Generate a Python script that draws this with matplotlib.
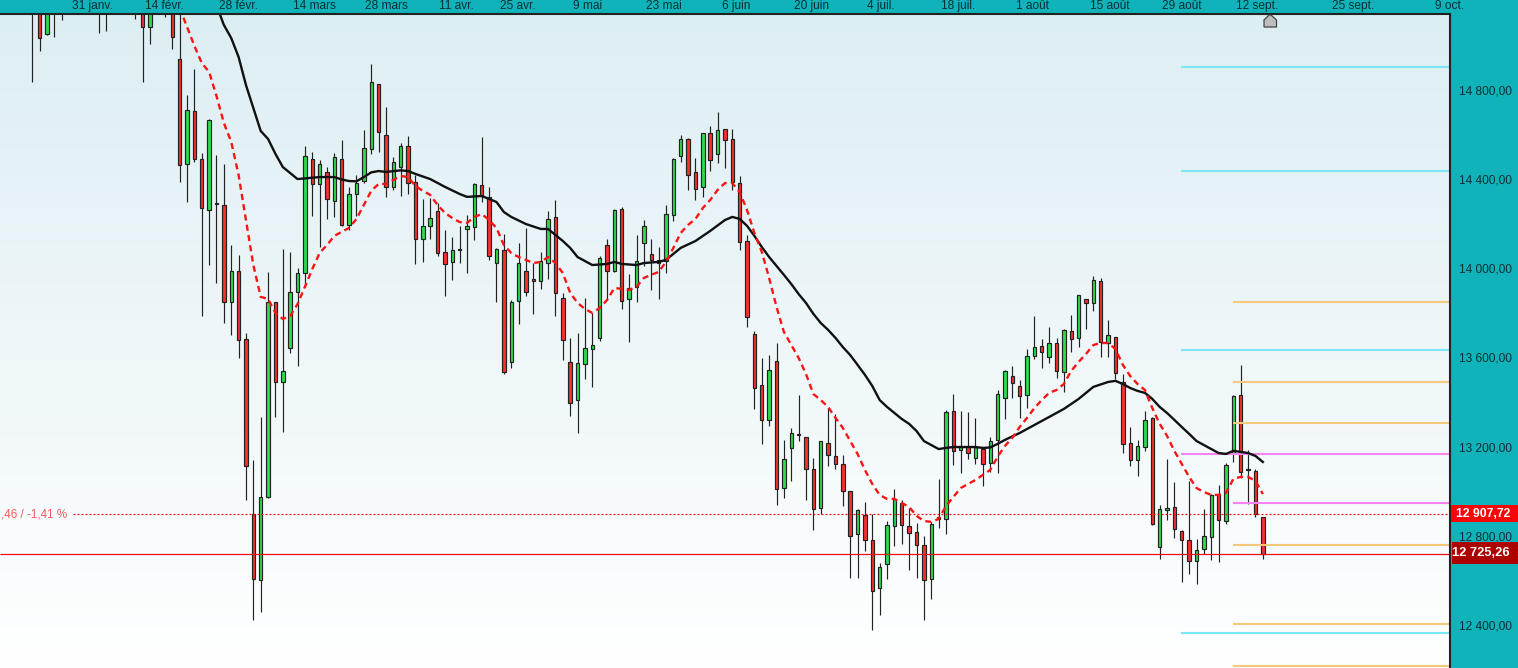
"""Daily candlestick chart with two moving averages and pivot levels."""
import matplotlib

matplotlib.use("Agg")
import matplotlib.patches as mpatches  # noqa: E402
import matplotlib.pyplot as plt  # noqa: E402
import matplotlib.transforms as mtrans  # noqa: E402
import numpy as np  # noqa: E402

plt.rcParams["font.family"] = ["Liberation Sans", "DejaVu Sans"]

opens = [15300, 15300, 15060, 15290, 15250, 15320, 15380, 15300, 15350, 15280,
         15200, 15300, 15250, 15330, 15260, 15200, 15091, 15200, 15280, 15190,
         14950, 14476, 14714, 14499, 14270, 14302, 14292, 13857, 13996, 13691,
         12907, 12609, 12982, 13857, 13498, 13650, 13905, 13987, 14499, 14387,
         14441, 14310, 14499, 14203, 14342, 14400, 14544, 14836, 14607, 14376,
         14463, 14557, 14396, 14140, 14198, 14265, 14081, 14036, 14095, 14185,
         14194, 14382, 14328, 14032, 14090, 13588, 13861, 13996, 13960, 13951,
         14032, 14238, 13875, 13588, 13417, 13579, 13646, 13695, 14113, 13999,
         14274, 13870, 13924, 14122, 14072, 14045, 14041, 14247, 14512, 14589,
         14441, 14373, 14616, 14521, 14634, 14589, 14391, 14131, 13713, 13484,
         13327, 13592, 13022, 13202, 13265, 13251, 13107, 12932, 13224, 13166,
         13130, 13008, 12815, 12901, 12789, 12573, 12681, 12851, 12955, 12851,
         12824, 12766, 12614, 12883, 12883, 13368, 13193, 13206, 13157, 13197,
         13134, 13238, 13426, 13525, 13480, 13439, 13615, 13659, 13610, 13673,
         13543, 13727, 13695, 13870, 13852, 13951, 13673, 13700, 13498, 13224,
         13148, 13206, 13336, 12757, 12923, 12937, 12829, 12789, 12694, 12748,
         12802, 12995, 12874, 13179, 13439, 13107, 13098, 12892]
highs = [15400, 15350, 15320, 15330, 15400, 15420, 15450, 15400, 15430, 15380,
         15340, 15400, 15370, 15420, 15360, 15300, 15280, 15330, 15350, 15300,
         15250, 14787, 14903, 14526, 14678, 14518, 14478, 14113, 14068, 13718,
         13148, 13341, 13993, 13860, 14096, 14083, 14010, 14559, 14530, 14496,
         14463, 14526, 14584, 14373, 14427, 14629, 14927, 14837, 14734, 14509,
         14571, 14603, 14428, 14321, 14325, 14301, 14181, 14151, 14200, 14249,
         14391, 14599, 14375, 14102, 14164, 13867, 14123, 14190, 14032, 14083,
         14267, 14316, 13897, 13695, 13718, 13876, 13809, 14063, 14141, 14276,
         14285, 13983, 14159, 14226, 14140, 14104, 14294, 14503, 14608, 14595,
         14505, 14618, 14648, 14711, 14636, 14635, 14423, 14159, 13727, 13606,
         13620, 13673, 13239, 13291, 13439, 13252, 13157, 13234, 13381, 13357,
         13170, 13010, 12928, 12959, 12905, 12685, 12874, 13019, 12968, 12932,
         12865, 12808, 12871, 13062, 13372, 13445, 13368, 13363, 13336, 13206,
         13254, 13462, 13553, 13571, 13508, 13646, 13794, 13691, 13745, 13695,
         13736, 13799, 13890, 13872, 13975, 13965, 13776, 13701, 13534, 13296,
         13239, 13369, 13343, 12946, 13152, 13049, 12835, 13053, 12793, 12928,
         12996, 13035, 13134, 13439, 13575, 13193, 13107, 12892]
lows = [14847, 14986, 15055, 15049, 15124, 15200, 15260, 15220, 15240, 15067,
        15075, 15210, 15190, 15230, 15129, 14847, 15018, 15170, 15139, 14995,
        14398, 14309, 14488, 13797, 14024, 13944, 13765, 13710, 13608, 12971,
        12432, 12468, 12977, 13343, 13276, 13628, 13572, 13926, 14246, 14107,
        14232, 14238, 14200, 14181, 14244, 14392, 14524, 14533, 14331, 14361,
        14335, 14343, 14030, 14039, 14141, 14066, 13887, 13958, 14035, 13990,
        14138, 14309, 14048, 13860, 13536, 13563, 13761, 13887, 13806, 13918,
        13963, 13797, 13597, 13348, 13272, 13511, 13478, 13685, 13867, 13993,
        13828, 13680, 13857, 14021, 13912, 13873, 13987, 14223, 14488, 14362,
        14317, 14331, 14448, 14481, 14461, 14362, 14093, 13747, 13379, 13222,
        13303, 12948, 12980, 13056, 13236, 12971, 12836, 12905, 13123, 13109,
        12944, 12621, 12621, 12742, 12387, 12455, 12616, 12764, 12773, 12657,
        12621, 12432, 12526, 12842, 12818, 13127, 13092, 13155, 13130, 13034,
        13097, 13092, 13334, 13426, 13339, 13384, 13601, 13563, 13583, 13518,
        13453, 13635, 13658, 13738, 13819, 13613, 13613, 13511, 13179, 13122,
        13077, 13190, 12857, 12706, 12880, 12800, 12603, 12639, 12594, 12727,
        12700, 12690, 12860, 13140, 13067, 12953, 12894, 12706]
closes = [15200, 15042, 15280, 15200, 15350, 15380, 15300, 15350, 15280, 15200,
          15300, 15250, 15330, 15260, 15200, 15091, 15200, 15280, 15190, 15047,
          14472, 14719, 14499, 14279, 14674, 14298, 13860, 13996, 13686, 13121,
          12614, 12982, 13857, 13498, 13547, 13902, 13987, 14512, 14387, 14476,
          14319, 14508, 14203, 14342, 14391, 14548, 14845, 14620, 14376, 14485,
          14557, 14394, 14140, 14198, 14234, 14077, 14028, 14090, 14091, 14198,
          14387, 14333, 14063, 14095, 13545, 13857, 14032, 13902, 13951, 14041,
          14230, 13897, 13686, 13404, 13583, 13650, 13664, 14054, 13996, 14270,
          13861, 13920, 14041, 14198, 14045, 14032, 14252, 14499, 14589, 14427,
          14364, 14616, 14494, 14629, 14584, 14396, 14126, 13790, 13471, 13327,
          13552, 13017, 13152, 13269, 13261, 13107, 12928, 13233, 13170, 13130,
          13008, 12807, 12923, 12789, 12560, 12667, 12856, 12973, 12856, 12820,
          12766, 12609, 12860, 12892, 13363, 13188, 13213, 13179, 13206, 13130,
          13233, 13444, 13547, 13493, 13435, 13615, 13655, 13632, 13673, 13547,
          13731, 13691, 13888, 13852, 13956, 13677, 13709, 13538, 13220, 13148,
          13210, 13327, 12860, 12928, 12932, 12838, 12789, 12694, 12744, 12807,
          12991, 12878, 13125, 13435, 13094, 13103, 12907.72, 12725.26]

slow_ma_days = [25, 26, 27, 28, 29, 30, 31, 32, 33, 34, 35, 36, 37, 39, 41, 42, 43, 44,
                45, 46, 47, 48, 50, 51, 52, 54, 56, 58, 59, 61, 63, 64, 65, 67, 69, 70,
                71, 72, 73, 74, 75, 76, 78, 79, 80, 82, 83, 85, 86, 87, 88, 90, 92, 94,
                95, 96, 97, 98, 99, 100, 101, 102, 103, 104, 105, 106, 107, 108, 109,
                110, 111, 112, 113, 114, 115, 116, 117, 118, 119, 120, 121, 122, 123,
                124, 125, 128, 129, 130, 131, 132, 134, 136, 138, 140, 142, 144, 146,
                147, 148, 149, 150, 151, 152, 153, 154, 156, 157, 158, 159, 160, 161,
                162, 163, 164, 165, 166, 167]
slow_ma = [15190, 15102, 15043, 14958, 14832, 14729, 14626, 14590, 14523, 14464, 14437,
           14410, 14413, 14419, 14419, 14408, 14401, 14400, 14419, 14440, 14446, 14442,
           14449, 14446, 14433, 14410, 14375, 14343, 14330, 14334, 14307, 14262, 14240,
           14208, 14186, 14186, 14159, 14132, 14101, 14060, 14042, 14024, 14029, 14038,
           14029, 14024, 14033, 14038, 14047, 14074, 14101, 14132, 14177, 14226, 14240,
           14231, 14200, 14155, 14105, 14060, 14020, 13980, 13939, 13894, 13854, 13805,
           13764, 13733, 13697, 13656, 13620, 13576, 13531, 13481, 13418, 13387, 13360,
           13333, 13311, 13279, 13234, 13216, 13198, 13203, 13207, 13207, 13203, 13205,
           13221, 13239, 13270, 13306, 13342, 13378, 13423, 13477, 13499, 13504, 13490,
           13472, 13459, 13450, 13423, 13387, 13360, 13297, 13266, 13234, 13216, 13198,
           13180, 13176, 13190, 13185, 13180, 13167, 13140]

fast_ma_first_day = 19
fast_ma = [15236, 15178, 15093, 15008, 14931, 14891, 14783, 14662, 14577, 14428, 14226,
           14024, 13881, 13872, 13809, 13782, 13795, 13849, 13926, 14006, 14078, 14114,
           14155, 14173, 14191, 14231, 14294, 14357, 14388, 14388, 14406, 14424, 14419,
           14379, 14357, 14339, 14294, 14258, 14235, 14217, 14213, 14240, 14253, 14226,
           14190, 14114, 14078, 14060, 14047, 14033, 14038, 14060, 14033, 13988, 13899,
           13854, 13827, 13809, 13831, 13867, 13921, 13917, 13912, 13926, 13966, 13980,
           13993, 14038, 14101, 14168, 14204, 14231, 14280, 14316, 14361, 14392, 14392,
           14352, 14271, 14168, 14083, 13966, 13836, 13724, 13665, 13607, 13535, 13445,
           13418, 13387, 13338, 13293, 13234, 13176, 13104, 13041, 12992, 12974, 12974,
           12956, 12938, 12898, 12875, 12871, 12884, 12942, 12983, 13023, 13041, 13059,
           13082, 13104, 13163, 13212, 13248, 13297, 13338, 13382, 13418, 13450, 13463,
           13490, 13549, 13589, 13625, 13665, 13674, 13674, 13647, 13576, 13526, 13490,
           13463, 13382, 13311, 13257, 13189, 13131, 13073, 13023, 13005, 12992, 12992,
           13001, 13064, 13073, 13073, 13055, 12996]

cyan_levels = [14915, 14446, 13643, 12372]
magenta_levels = [13176, 12956]
magenta_starts = [155.9, 162.9]
orange_levels = [13858, 13499, 13315, 12768, 12413, 12224]
last_close = 12725.26
prev_close = 12907.72

date_labels = ["31 janv.", "14 févr.", "28 févr.", "14 mars", "28 mars", "11 avr.",
               "25 avr.", "9 mai", "23 mai", "6 juin", "20 juin", "4 juil.", "18 juil.",
               "1 août", "15 août", "29 août", "12 sept.", "25 sept.", "9 oct."]
date_days = [8.1, 18.0, 28.0, 38.3, 48.0, 57.6, 65.9, 75.3, 85.7, 95.5, 105.7, 115.1,
             125.7, 135.7, 146.2, 156.0, 166.2, 179.3, 192.3]
price_ticks = [14800, 14400, 14000, 13600, 13200, 12800, 12400]

W, H = 1518, 668
TEAL = "#0FB3B9"
DARK = "#222222"
GREEN = "#2BDD4B"
RED = "#F8302E"
TICK_TEXT = "#082F33"


def fr_price(value):
    """French formatting: 14 800,00"""
    return f"{value:,.2f}".replace(",", " ").replace(".", ",")


fig = plt.figure(figsize=(W / 100, H / 100), dpi=100, facecolor=TEAL)
ax = fig.add_axes([0, 0, 1450 / W, (H - 14) / H])
ax.set_xlim(-4.38, 192.4)
ax.set_ylim(12215, 15151)

# background gradient, pale blue at the top down to white
top_col = np.array([221, 238, 243]) / 255
grad = np.linspace(0, 1, 256)[:, None, None]
img = top_col + (1 - top_col) * grad
ax.imshow(img, extent=(-4.38, 192.4, 12215, 15151), origin="upper",
          aspect="auto", zorder=0, interpolation="bilinear")

days = np.arange(len(closes))
o = np.array(opens)
c = np.array(closes)
body_low = np.minimum(o, c)
body_h = np.maximum(np.abs(c - o), 1)
colors = [GREEN if cl > op else RED for op, cl in zip(opens, closes)]

ax.vlines(days, lows, highs, color=DARK, lw=0.85, zorder=2)
ax.bar(days, body_h, bottom=body_low, width=0.46, color=colors,
       edgecolor=DARK, linewidth=0.85, zorder=3)

# pivot levels
for lv in cyan_levels:
    ax.hlines(lv, 155.9, 192.4, color="#7BE6F5", lw=1.5, zorder=4)
for lv, start in zip(magenta_levels, magenta_starts):
    ax.hlines(lv, start, 192.4, color="#F683F3", lw=1.5, zorder=4)
for lv in orange_levels:
    ax.hlines(lv, 162.9, 192.4, color="#F6C87C", lw=1.5, zorder=4)

# previous close / last price
ax.hlines(prev_close, 5.5, 192.4, color="#F01010", lw=0.9,
          linestyles=(0, (1.6, 1.6)), zorder=5)
ax.hlines(last_close, -4.38, 192.4, color="#EE1111", lw=0.9, zorder=5)
ax.text(-4.3, prev_close - 4, ",46 / -1,41 %", color="#F45A5A", fontsize=8.4,
        ha="left", va="center", zorder=5)

# moving averages
ax.plot(slow_ma_days, slow_ma, color="#111111", lw=1.7, zorder=6,
        solid_joinstyle="round")
ax.plot(np.arange(len(fast_ma)) + fast_ma_first_day, fast_ma, color="#FA1414", lw=1.7,
        linestyle=(0, (2.6, 1.8)), zorder=6)

ax.xaxis.tick_top()
ax.set_xticks(date_days, date_labels)
ax.yaxis.tick_right()
ax.set_yticks(price_ticks, [fr_price(t) for t in price_ticks])
ax.tick_params(axis="x", length=0, pad=1.2, labelsize=8.6, labelcolor=TICK_TEXT)
ax.tick_params(axis="y", length=0, pad=6.5, labelsize=8.6, labelcolor=TICK_TEXT)
# the price labels sit about 2 px above their level in the reference
lift = mtrans.ScaledTranslation(0, 2 / 100, fig.dpi_scale_trans)
for lab in ax.get_yticklabels():
    lab.set_transform(lab.get_transform() + lift)
for side in ("left", "bottom"):
    ax.spines[side].set_visible(False)
for side in ("top", "right"):
    ax.spines[side].set_color(DARK)
    ax.spines[side].set_linewidth(1.5)
    ax.spines[side].set_zorder(8)

# price tags in the right band, drawn in pixels from the top-left corner


def px_box(x0, y0, x1, y1, color):
    fig.add_artist(mpatches.Rectangle((x0 / W, 1 - y1 / H), (x1 - x0) / W, (y1 - y0) / H,
                                      transform=fig.transFigure, facecolor=color,
                                      edgecolor="none", zorder=9))


px_box(1451, 505, W, 522, "#FA0505")
px_box(1452, 542, W, 564, "#AD0000")
fig.text(1483 / W, 1 - 514 / H, fr_price(prev_close), color="white", fontsize=8.8,
         fontweight="bold", ha="center", va="center", zorder=10)
fig.text(1481 / W, 1 - 553.5 / H, fr_price(last_close), color="white", fontsize=9.3,
         fontweight="bold", ha="center", va="center", zorder=10)

# grey marker under the date axis
house = [(1264, 27), (1264, 20), (1269, 15), (1271, 15), (1276.5, 20), (1276.5, 27)]
fig.add_artist(mpatches.Polygon([(x / W, 1 - y / H) for x, y in house], closed=True,
                                transform=fig.transFigure, facecolor="#BDBDBD",
                                edgecolor="#444444", linewidth=0.9, zorder=9))

fig.savefig("out.png", dpi=100, facecolor=TEAL)
plt.close(fig)
